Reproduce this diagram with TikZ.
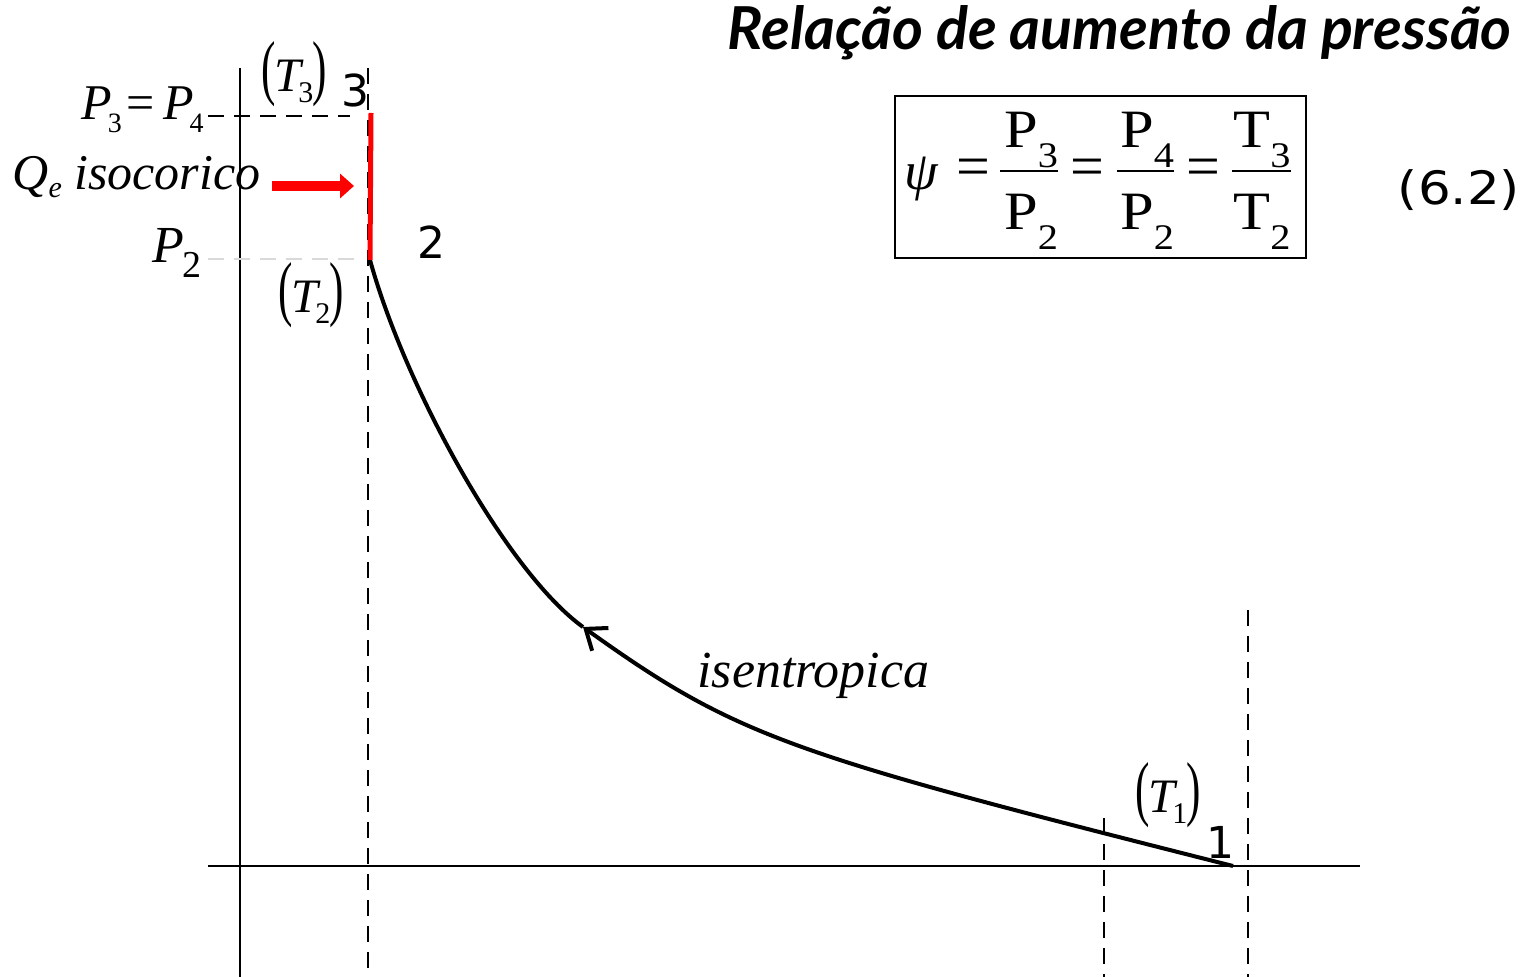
\documentclass[tikz,border=0pt]{standalone}
\usepackage{fontspec}
\usepackage{graphicx}
\setmainfont{Liberation Serif}
\newfontfamily\numfont{DejaVu Sans}
\newfontfamily\titlefont{Lato}
\usetikzlibrary{arrows.meta}
\newcommand\lsub[3][6pt]{\raisebox{-#1}{\fontsize{#2}{#2}\selectfont #3}}
\newcommand\bigpar[1]{\scalebox{0.9}[1.5]{\upshape #1}}
\newcommand\mytlab[1]{\bigpar{(}\kern-0.5pt\textit{T}\kern-1.5pt\lsub[5.5pt]{15}{\upshape #1}\kern-0.5pt\bigpar{)}}
\begin{document}
\begin{tikzpicture}[x=0.5pt,y=-0.5pt,
  axis/.style={line width=1pt},
  vdash/.style={line width=1pt, dash pattern=on 8pt off 5pt},
  lab/.style={inner sep=0pt, font=\fontsize{26}{30}\selectfont\itshape},
  tlab/.style={inner sep=0pt, font=\fontsize{24}{28}\selectfont\itshape},
  num/.style={inner sep=0pt, font=\fontsize{22}{26}\selectfont\numfont},
  fml/.style={inner sep=0pt, font=\fontsize{27}{30}\selectfont},
  feq/.style={inner sep=0pt, font=\fontsize{30}{34}\selectfont},
  curve/.style={line width=2pt},
  fbar/.style={line width=0.8pt}]
\useasboundingbox (0,0) rectangle (1524,977);

% named points
\coordinate (pt1) at (1233,866);
\coordinate (pt2) at (370,260);
\coordinate (pt3) at (371,113);
\coordinate (ka) at (583,627);
\coordinate (qa) at (272,186);
\coordinate (qb) at (354,186);

% axes
\draw[axis] (240,68) -- (240,977);
\draw[axis] (208,866) -- (1360,866);

% dashed guides
\draw[vdash] (368,68) -- (368,977);
\draw[vdash] (1104,818) -- (1104,977);
\draw[vdash] (1248,610) -- (1248,977);
\draw[vdash] (208,116) -- (350,116);
\draw[line width=0.8pt, gray!30, dash pattern=on 8pt off 5pt] (208,259) -- (364,259);

% isentropic curve 1 -> 2
\draw[curve, -{Straight Barb[length=9pt,width=14pt,line width=2pt]}]
  (pt1) .. controls (790,754) and (738,738) .. (ka);
\draw[curve] (ka) .. controls (508,573) and (406,390) .. (pt2);

% isochoric heat addition 2 -> 3
\draw[red, line width=2.5pt] (pt2) -- (pt3);
\draw[red, line width=5pt, -{Triangle[length=7pt,width=12pt]}] (qa) -- (qb);

% labels
\node[lab, anchor=base east, font=\fontsize{25}{30}\selectfont\itshape] (lP34) at (204,120) {P\kern-2pt\lsub[6.5pt]{14}{\upshape 3}\kern2.5pt{\upshape =}\kern4pt P\kern-2pt\lsub[6.5pt]{14}{\upshape 4}};
\node[lab, anchor=base west, font=\fontsize{25}{30}\selectfont\itshape] (lQe) at (12,190) {Q\lsub[4pt]{15}{e}\ isocorico};
\node[lab, anchor=base west] (lP2) at (152,263) {P\kern-1pt\lsub[7.5pt]{19}{\upshape 2}};
\node[tlab, anchor=base] (lT3) at (294,92) {\mytlab{3}};
\node[tlab, anchor=base] (lT2) at (311,313) {\mytlab{2}};
\node[tlab, anchor=base] (lT1) at (1168,812) {\mytlab{1}};
\node[lab, anchor=base west] (lis) at (697,687) {isentropica};

\node[num, anchor=base] (n3) at (355,107) {3};
\node[num, anchor=base] (n2) at (431,259) {2};
\node[num, anchor=base] (n1) at (1220,858) {1};

% title
\node[inner sep=0pt, anchor=base east] (title) at (1512,50)
  {\resizebox{392pt}{!}{\fontsize{26}{30}\selectfont\titlefont\bfseries\itshape Relação de aumento da pressão}};

% formula box
\draw[line width=0.8pt] (895,96) rectangle (1306,258);
\node[fml, anchor=base] (psi) at (921,190) {\itshape ψ};
\node[feq, anchor=base] (eqa) at (973,187) {=};
\node[fml, anchor=base] (na) at (1031,148) {\scalebox{1.12}[1]{P\lsub[10pt]{18}{3}}};
\node[fml, anchor=base] (da) at (1031,230) {\scalebox{1.12}[1]{P\lsub[10pt]{18}{2}}};
\draw[fbar] (1000,171) -- (1058,171);
\node[feq, anchor=base] (eqb) at (1087,187) {=};
\node[fml, anchor=base] (nb) at (1147,148) {\scalebox{1.12}[1]{P\lsub[10pt]{18}{4}}};
\node[fml, anchor=base] (db) at (1147,230) {\scalebox{1.12}[1]{P\lsub[10pt]{18}{2}}};
\draw[fbar] (1117,171) -- (1174,171);
\node[feq, anchor=base] (eqc) at (1203,187) {=};
\node[fml, anchor=base] (nc) at (1262,148) {\scalebox{1.12}[1]{T\lsub[10pt]{18}{3}}};
\node[fml, anchor=base] (dc) at (1262,230) {\scalebox{1.12}[1]{T\lsub[10pt]{18}{2}}};
\draw[fbar] (1232,171) -- (1291,171);

\node[num, anchor=base, font=\fontsize{23}{26}\selectfont\numfont] (eqn) at (1459,205) {\scalebox{1.12}[1]{(6.2)}};
\end{tikzpicture}
\end{document}
